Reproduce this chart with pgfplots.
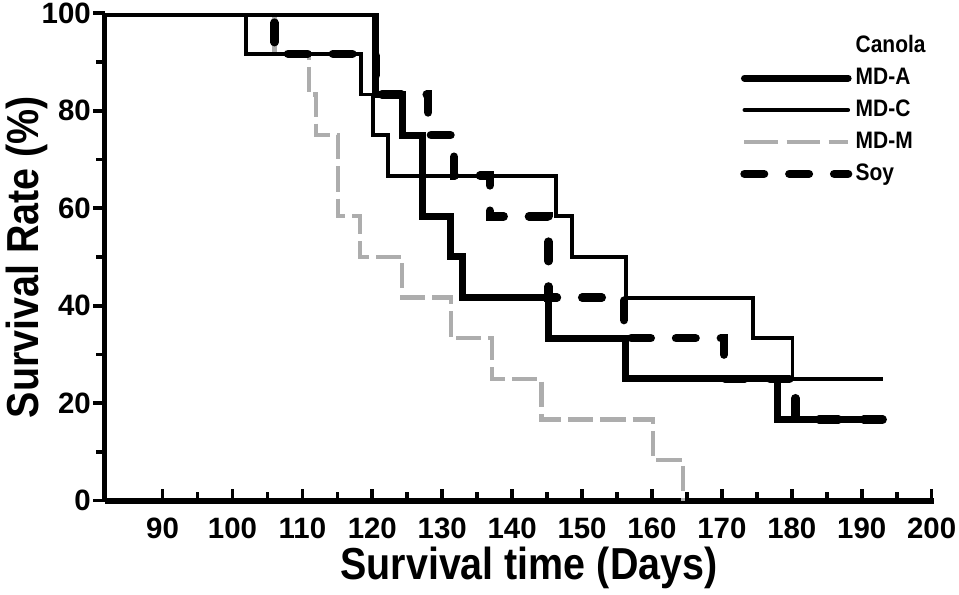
\documentclass[border=0pt]{standalone}
\usepackage{fontspec}
\setmainfont{Liberation Sans}[FakeStretch=0.88]
\newfontfamily\tickfont{Liberation Sans}
\usepackage{pgfplots}
\pgfplotsset{compat=1.18}
\begin{document}
\begin{tikzpicture}
\begin{axis}[
  scale only axis, width=296pt, height=174pt,
  xmin=81.7, xmax=200.3, ymin=0, ymax=100,
  axis lines=left, axis line style={line width=2.1pt, -},
  xtick={90,100,...,200}, minor xtick={95,105,...,195},
  ytick={0,20,...,100}, minor ytick={10,30,...,90},
  xtick align=inside, ytick align=outside,
  tick style={line width=1.3pt, black},
  major tick length=4pt, minor tick length=3pt,
  /pgf/number format/assume math mode=true,
  tick label style={font=\tickfont\bfseries\fontsize{10.5}{11}\selectfont, inner sep=1pt},
  xticklabel style={yshift=-5pt},
  yticklabel style={xshift=0.3pt},
  xlabel={Survival time (Days)}, ylabel={Survival Rate (\%)},
  label style={font=\bfseries\fontsize{16}{17}\selectfont, inner sep=2pt},
  xlabel style={at={(axis description cs:0.5,0)}, anchor=north, yshift=-14.5pt, xshift=3.5pt},
  ylabel style={at={(axis description cs:-0.0615,0.5)}, anchor=south},
  const plot,
  legend style={draw=none, fill=none, at={(0.766,0.963)}, anchor=north west,
    font=\bfseries\fontsize{8.5}{9}\selectfont, row sep=1.6pt, inner sep=0pt,
    nodes={inner sep=1.2pt}},
  legend cell align=left,
  legend image code/.code={\draw[#1] (0pt,0pt) -- (37pt,0pt);},
]
% MD-M
\addplot[forget plot, black!32, line width=1.5pt, dash pattern=on 9pt off 2.5pt] coordinates {
(81.7,100) (106,91.67) (110.9,83.33) (112,75) (115.1,58.33) (118.2,50) (124.3,41.67)
(131.2,33.33) (137.1,25) (144.2,16.67) (160.2,8.33) (164.4,0)};
% Soy
\addplot[forget plot, black, line width=3pt, line cap=round, dash pattern=on 7pt off 9pt] coordinates {
(81.7,100) (106,91.67) (120.5,83.33) (128,75) (131.7,66.67) (136.8,58.33) (145.2,41.67)
(156,33.33) (170.3,25) (180.5,16.67) (193,16.67)};
% MD-C
\addplot[forget plot, black, line width=1.4pt] coordinates {
(81.7,100) (101.9,91.67) (118.4,83.33) (120.1,75) (122.2,66.67) (146.3,58.33) (148.5,50)
(156.3,41.67) (174.5,33.33) (180.1,25) (193,25)};
% MD-A
\addplot[forget plot, black, line width=2.5pt] coordinates {
(81.7,100) (120.5,83.33) (124.3,75) (127.2,58.33) (131.2,50) (132.9,41.67) (145.2,33.33)
(156.2,25) (177.9,16.67) (193,16.67)};
\addlegendimage{empty legend}
\addlegendentry{Canola}
\addlegendimage{black, line width=2.5pt, line cap=round}
\addlegendentry{MD-A}
\addlegendimage{black, line width=1.4pt, line cap=round}
\addlegendentry{MD-C}
\addlegendimage{black!32, line width=1.5pt, dash pattern=on 12pt off 3pt}
\addlegendentry{MD-M}
\addlegendimage{black, line width=3pt, line cap=round, dash pattern=on 7pt off 9pt}
\addlegendentry{Soy}
\end{axis}
\end{tikzpicture}
\end{document}
